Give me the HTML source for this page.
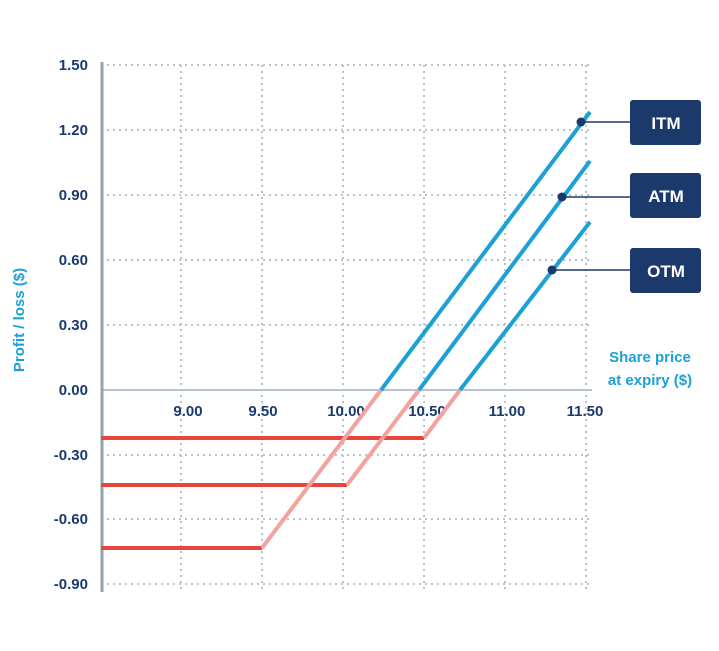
<!DOCTYPE html>
<html><head><style>body{margin:0;background:#fff}svg{display:block}</style></head><body>
<svg width="719" height="651" xmlns="http://www.w3.org/2000/svg" font-family="Liberation Sans, sans-serif">
<g stroke="#b5c4d0" stroke-width="2" stroke-dasharray="2,4">
<line x1="101" y1="65" x2="592" y2="65"/><line x1="101" y1="130" x2="592" y2="130"/><line x1="101" y1="195" x2="592" y2="195"/><line x1="101" y1="260" x2="592" y2="260"/><line x1="101" y1="325" x2="592" y2="325"/><line x1="101" y1="455" x2="592" y2="455"/><line x1="101" y1="519" x2="592" y2="519"/><line x1="101" y1="584" x2="592" y2="584"/>
<line x1="181" y1="65" x2="181" y2="590"/><line x1="262" y1="65" x2="262" y2="590"/><line x1="343" y1="65" x2="343" y2="590"/><line x1="424" y1="65" x2="424" y2="590"/><line x1="505" y1="65" x2="505" y2="590"/><line x1="586" y1="65" x2="586" y2="590"/>
</g>
<line x1="101" y1="390" x2="592" y2="390" stroke="#b5c4d0" stroke-width="2"/>
<line x1="102" y1="62" x2="102" y2="592" stroke="#8fa3b3" stroke-width="3"/>
<g font-size="15" font-weight="bold" fill="#1b3a6b" text-anchor="end">
<text x="88" y="70">1.50</text><text x="88" y="135">1.20</text><text x="88" y="200">0.90</text><text x="88" y="265">0.60</text><text x="88" y="330">0.30</text><text x="88" y="395">0.00</text><text x="88" y="460">-0.30</text><text x="88" y="524">-0.60</text><text x="88" y="589">-0.90</text>
</g>
<g font-size="15" font-weight="bold" fill="#1b3a6b" text-anchor="middle">
<text x="188" y="416">9.00</text><text x="263" y="416">9.50</text><text x="346" y="416">10.00</text><text x="427" y="416">10.50</text><text x="507" y="416">11.00</text><text x="585" y="416">11.50</text>
</g>
<text transform="translate(24,320) rotate(-90)" font-size="15" font-weight="bold" fill="#1ba0d7" text-anchor="middle">Profit / loss ($)</text>
<text x="650" y="362" font-size="15" font-weight="bold" fill="#1ba0d7" text-anchor="middle">Share price</text>
<text x="650" y="385" font-size="15" font-weight="bold" fill="#1ba0d7" text-anchor="middle">at expiry ($)</text>
<g stroke-width="4" fill="none">
<line x1="101" y1="548" x2="262" y2="548" stroke="#e8453c"/>
<line x1="101" y1="485" x2="347" y2="485" stroke="#e8453c"/>
<line x1="101" y1="438" x2="424" y2="438" stroke="#e8453c"/>
<line x1="262" y1="548" x2="381" y2="390" stroke="#f4a29d"/>
<line x1="347" y1="485" x2="419" y2="390" stroke="#f4a29d"/>
<line x1="424" y1="438" x2="460" y2="390" stroke="#f4a29d"/>
<line x1="381" y1="390" x2="590" y2="112" stroke="#1ba0d7"/>
<line x1="419" y1="390" x2="590" y2="161" stroke="#1ba0d7"/>
<line x1="460" y1="390" x2="590" y2="222" stroke="#1ba0d7"/>
</g>
<g stroke="#1b3a6b" stroke-width="1.5">
<line x1="581" y1="122" x2="630" y2="122"/><line x1="562" y1="197" x2="630" y2="197"/><line x1="552" y1="270" x2="630" y2="270"/>
</g>
<g fill="#1b3a6b">
<circle cx="581" cy="122" r="4.5"/><circle cx="562" cy="197" r="4.5"/><circle cx="552" cy="270" r="4.5"/>
<rect x="630" y="100" width="71" height="45" rx="3"/><rect x="630" y="173" width="71" height="45" rx="3"/><rect x="630" y="248" width="71" height="45" rx="3"/>
</g>
<g font-size="17" font-weight="bold" fill="#fff" text-anchor="middle">
<text x="666" y="129">ITM</text><text x="666" y="202">ATM</text><text x="666" y="277">OTM</text>
</g>
</svg>
</body></html>
